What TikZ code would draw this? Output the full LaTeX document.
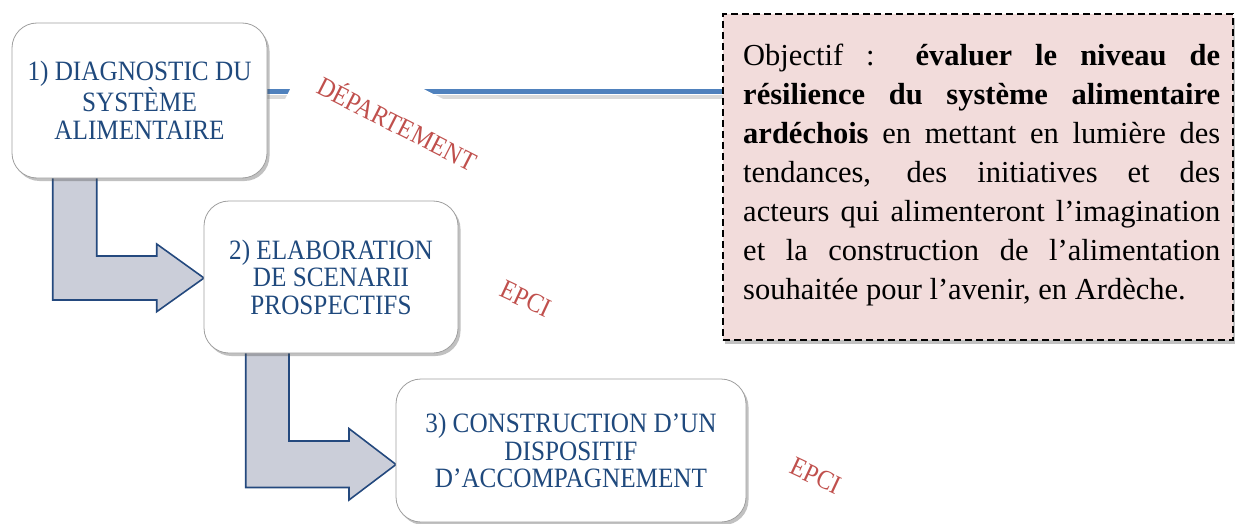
\documentclass[tikz,border=0pt]{standalone}
\usepackage{fontspec}
\setmainfont{Liberation Serif}
\newfontfamily\boxfont{Liberation Serif}[FakeStretch=0.9]
\usetikzlibrary{shadows,calc}
\definecolor{txtblue}{HTML}{1F497D}
\definecolor{lblred}{HTML}{C0504D}
\definecolor{lineblue}{HTML}{4F81BD}
\definecolor{objpink}{HTML}{F2DCDB}
\definecolor{arrowfill}{HTML}{CBCED9}
\definecolor{arrowline}{HTML}{24497E}
\tikzset{
  stepbox/.style={draw=gray!75, line width=0.8pt, fill=white, rounded corners=25pt,
    drop shadow={shadow xshift=2.5pt, shadow yshift=-3pt, opacity=0.35, fill=black!70},
    text=txtblue, align=center, inner sep=0pt,
    font=\boxfont\fontsize{28}{27.5}\selectfont},
  bentarrow/.style={draw=arrowline, line width=1.6pt, fill=arrowfill, line join=miter},
  level/.style={text=lblred, font=\boxfont\fontsize{27}{28}\selectfont, inner sep=0pt},
  objbox/.style={draw=black, dash pattern=on 7pt off 4pt, line width=1.5pt, fill=objpink,
    drop shadow={shadow xshift=1.5pt, shadow yshift=-4pt, opacity=0.35, fill=black!70}},
  blueline/.style={draw=lineblue, line width=5pt},
}
\begin{document}
\begin{tikzpicture}[x=1pt,y=-1pt]
\useasboundingbox (0,0) rectangle (1236,524);
% objective box
\node[objbox, minimum width=510pt, minimum height=326pt, inner sep=0pt] (robj) at (978,177) {};
\node[anchor=base west, text width=477pt, align=justify, inner sep=0pt,
      font=\fontsize{30.5}{39}\selectfont] (objtext) at (743,66)
  {\hyphenpenalty=10000 Objectif : \textbf{évaluer le niveau de}\linebreak
   \textbf{résilience du système alimentaire}\linebreak
   \textbf{ardéchois} en mettant en lumière des\linebreak
   tendances, des initiatives et des\linebreak
   acteurs qui alimenteront l’imagination\linebreak
   et la construction de l’alimentation\linebreak
   souhaitée pour l’avenir, en Ardèche.};
% boxes (positions)
\path (139.5,100.5) coordinate (c1) (331,277) coordinate (c2) (571,450.5) coordinate (c3);
\coordinate (lineY) at (0,91.5);
% connector line with shadow
\draw[line width=4pt, draw=black, opacity=0.15] (267,97) -- (723,97);
\draw[blueline] (267,91.5) -- (robj.west |- lineY);
% label DÉPARTEMENT with white background cutting the line
\node[level, fill=white, rotate=-27, minimum width=222pt, minimum height=82pt] (dep) at (398,122) {DÉPARTEMENT};
\node[level, rotate=-25] (epci1) at (526,299) {EPCI};
\node[level, rotate=-25] (epci2) at (816,476) {EPCI};
% bent arrows
\draw[bentarrow] (52.7,170) -- (96.7,170) -- (96.7,256) -- (156.7,256) -- (156.7,244)
  -- (204,278) -- (156.7,311.7) -- (156.7,300) -- (52.7,300) -- cycle;
\draw[bentarrow] (245.7,345) -- (289,345) -- (289,441) -- (349,441) -- (349,428.6)
  -- (396,464.5) -- (349,500) -- (349,487.5) -- (245.7,487.5) -- cycle;
% step boxes
\node[stepbox, minimum width=255pt, minimum height=155pt] (b1) at (c1)
  {1) DIAGNOSTIC DU\\SYSTÈME\\ALIMENTAIRE};
\node[stepbox, minimum width=254pt, minimum height=152pt] (b2) at (c2)
  {2) ELABORATION\\DE SCENARII\\PROSPECTIFS};
\node[stepbox, minimum width=350pt, minimum height=143pt] (b3) at (c3)
  {3) CONSTRUCTION D’UN\\DISPOSITIF\\D’ACCOMPAGNEMENT};
\end{tikzpicture}
\end{document}
